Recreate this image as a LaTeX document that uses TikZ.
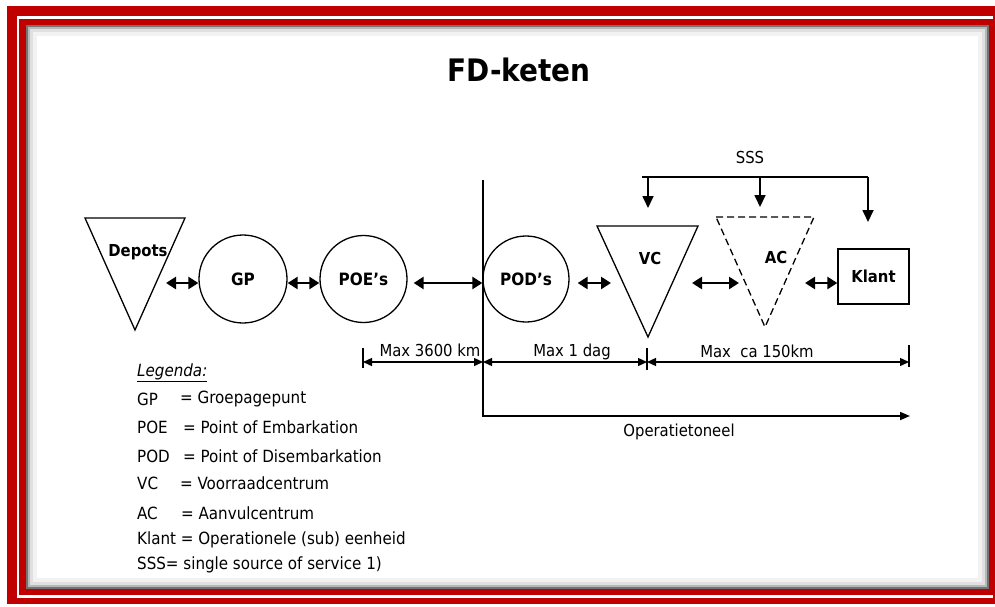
\documentclass[tikz,border=0pt]{standalone}
\usepackage{fontspec}
\setmainfont{DejaVu Sans Condensed}
\usepackage{tikz}
\usetikzlibrary{calc,positioning,arrows.meta}
\definecolor{frameRed}{RGB}{192,0,0}
\tikzset{
  circnode/.style={circle, draw, line width=1.3pt, inner sep=0pt,
    font=\fontsize{17}{20}\selectfont\bfseries},
  shapelabel/.style={inner sep=0pt, font=\fontsize{16.5}{20}\selectfont\bfseries},
  triline/.style={line width=1.3pt, line join=miter},
  biarrow/.style={{Triangle[length=10pt,width=12pt]}-{Triangle[length=10pt,width=12pt]},
    line width=2.6pt},
  dimarrow/.style={{Triangle[length=9pt,width=8pt]}-{Triangle[length=9pt,width=8pt]},
    line width=1.4pt},
  downarrow/.style={-{Triangle[length=12pt,width=11pt]}, line width=1.7pt},
  dimtext/.style={inner sep=0pt, font=\fontsize{16.5}{20}\selectfont},
  legendtext/.style={anchor=west, inner sep=0pt, font=\fontsize{16.8}{20}\selectfont}
}

\begin{document}
\begin{tikzpicture}[x=1pt,y=-1pt]
  \useasboundingbox (0,0) rectangle (995,606);
  % red frame with white gap
  \fill[frameRed] (7,6) rectangle (995,604);
  \fill[white] (17,16) rectangle (993,598);
  \fill[frameRed] (19,19) rectangle (993,595);
  % panel with soft grey edge
  \fill[white] (26,25) rectangle (989,589);
  \draw[black!55, line width=2pt] (27,26) rectangle (988,588);
  \draw[black!28, line width=2pt] (29,28) rectangle (986,586);
  \draw[black!12, line width=3pt] (31.5,30.5) rectangle (983.5,583.5);
  \draw[black!5, line width=4pt] (35,34) rectangle (980,580);

  % title
  \node[font=\fontsize{31}{34}\selectfont\bfseries] (title) at (519,70) {FD-keten};

  % Depots (triangle)
  \coordinate (depots-nw) at (85,218);
  \coordinate (depots-ne) at (185,218);
  \coordinate (depots-s) at (135,330);
  \draw[triline] (depots-nw) -- (depots-ne) -- (depots-s) -- cycle;
  \node[shapelabel] (depots) at (138,252) {Depots};
  \coordinate (depots-e) at (166,283);
  \coordinate (axis) at (0,283);

  % GP, POE's, POD's
  \node[circnode, minimum size=88pt] (gp) at (243,279) {GP};
  \node[circnode, minimum size=87pt] (poe) at (363.5,279) {POE's};
  \node[circnode, minimum size=86pt] (pod) at (526,279) {POD’s};

  % VC (triangle)
  \coordinate (vc-nw) at (597,226);
  \coordinate (vc-ne) at (698,226);
  \coordinate (vc-s) at (648,337);
  \draw[triline] (vc-nw) -- (vc-ne) -- (vc-s) -- cycle;
  \node[shapelabel] (vc) at (650,258) {VC};
  \coordinate (vc-w) at (611,283);
  \coordinate (vc-e) at (692,283);

  % AC (dashed triangle)
  \coordinate (ac-nw) at (716,217);
  \coordinate (ac-ne) at (814,217);
  \coordinate (ac-s) at (765,327);
  \draw[triline, dash pattern=on 7pt off 4pt] (ac-nw) -- (ac-ne) -- (ac-s) -- cycle;
  \node[shapelabel] (ac) at (776,257) {AC};
  \coordinate (ac-w) at (739,283);
  \coordinate (ac-e) at (805,283);

  % Klant
  \node[draw, line width=1.3pt, minimum width=71pt, minimum height=55pt,
    inner sep=0pt, font=\fontsize{16.5}{20}\selectfont\bfseries] (klant) at (873.5,276.5) {Klant};

  % chain arrows
  \draw[biarrow] (depots-e) -- (axis -| gp.west);
  \draw[biarrow] (axis -| gp.east) -- (axis -| poe.west);
  \draw[biarrow, shorten <=6pt] (axis -| poe.east) -- (axis -| pod.west);
  \draw[biarrow, shorten <=8pt] (axis -| pod.east) -- (vc-w);
  \draw[biarrow] (vc-e) -- (ac-w);
  \draw[biarrow] (ac-e) -- (axis -| klant.west);

  % SSS bracket
  \node[dimtext] (sss) at (750,157) {SSS};
  \coordinate (sss-l) at (642,177);
  \coordinate (sss-r) at (868,177);
  \draw[line width=1.7pt] (sss-l) -- (sss-r);
  \draw[downarrow] (sss-l -| vc-s) -- ++(0,31);
  \draw[downarrow] ($(sss-l -| ac-s)+(-5,0)$) -- ++(0,30);
  \draw[downarrow] (sss-r) -- ++(0,45);

  % front line and operatietoneel
  \coordinate (front-top) at (483,180);
  \coordinate (front-bot) at (483,416);
  \coordinate (theatre-end) at (910,416);
  \draw[line width=1.7pt, -{Triangle[length=10pt,width=8pt]}]
    (front-top) -- (front-bot) -- (theatre-end);
  \node[dimtext] (theatre) at (679,432) {Operatietoneel};

  % distances
  \coordinate (dimA) at (363,362);
  \coordinate (dimB) at (483,362);
  \coordinate (dimC) at (647,362);
  \coordinate (dimD) at (909,362);
  \draw[line width=1.4pt] (dimA) ++(0,-14) -- ++(0,20);
  \draw[line width=1.4pt] (dimC) ++(0,-14) -- ++(0,22);
  \draw[line width=1.4pt] (dimD) ++(0,-17) -- ++(0,22);
  \draw[dimarrow] (dimA) -- (dimB);
  \draw[dimarrow] (dimB) -- (dimC);
  \draw[dimarrow] (dimC) -- (dimD);
  \node[dimtext] (dist-air) at (430,350) {Max 3600 km};
  \node[dimtext] (dist-day) at (572,352) {Max 1 dag};
  \node[dimtext] (dist-road) at (757,351) {Max~ ca 150km};

  % legend
  \node[legendtext, font=\fontsize{16.8}{20}\selectfont\itshape] (leg) at (137,373)
    {\underline{Legenda:}};
  \node[legendtext] (leg-gp) at (137,399) {GP};
  \node[legendtext] (leg-gp-t) at (180,399) {= Groepagepunt};
  \node[legendtext] (leg-poe) at (137,427) {POE};
  \node[legendtext] (leg-poe-t) at (183,427) {= Point of Embarkation};
  \node[legendtext] (leg-pod) at (137,456) {POD};
  \node[legendtext] (leg-pod-t) at (183,456) {= Point of Disembarkation};
  \node[legendtext] (leg-vc) at (137,483) {VC};
  \node[legendtext] (leg-vc-t) at (180,483) {= Voorraadcentrum};
  \node[legendtext] (leg-ac) at (137,513) {AC};
  \node[legendtext] (leg-ac-t) at (181,513) {= Aanvulcentrum};
  \node[legendtext] (leg-klant) at (137,540) {Klant = Operationele (sub) eenheid};
  \node[legendtext] (leg-sss) at (137,565) {SSS= single source of service 1)};
\end{tikzpicture}
\end{document}
